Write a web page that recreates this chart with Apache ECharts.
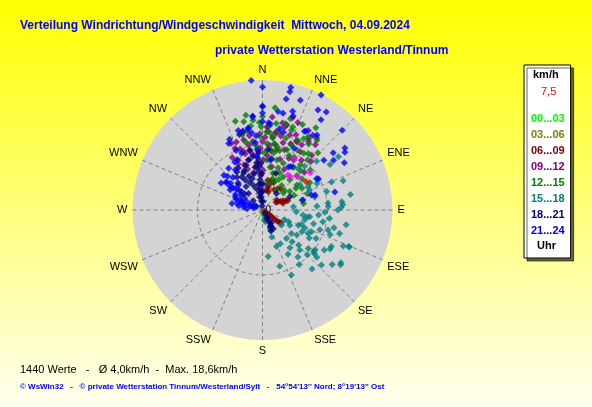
<!DOCTYPE html>
<html>
<head>
<meta charset="utf-8">
<script src="https://cdn.jsdelivr.net/npm/echarts@6/dist/echarts.min.js"></script>
<style>
  html, body { margin: 0; padding: 0; }
  #chart { width: 592px; height: 407px; }
</style>
</head>
<body>
<div id="chart"></div>
<script>
// Himmelsrichtungen (alle 22,5 Grad)
var dirNames = ['N', 'NNE', 'NE', 'ENE', 'E', 'ESE', 'SE', 'SSE', 'S', 'SSW', 'SW', 'WSW', 'W', 'WNW', 'NW', 'NNW'];

// Zeitklassen (Uhr) und ihre Farben
var slotNames = ['00...03', '03...06', '06...09', '09...12', '12...15', '15...18', '18...21', '21...24'];
var slotColors = ['#00ff00', '#808000', '#800000', '#800080', '#008000', '#008080', '#000080', '#0000ff'];

// Messwerte je Zeitklasse: [Richtung in Grad, Geschwindigkeit km/h]
var slot0003 = [[165, 0.4], [172, 0.6], [158, 0.5]];
var slot0306 = [[175, 0.3], [150, 0.7], [140, 0.4]];
var slot0609 = [[122, 0.3], [124, 0.6], [125, 0.9], [126, 1.2], [127, 1.5], [128, 1.8], [127, 2.1], [126, 2.4], [125, 2.6],
  [62, 2.0], [64, 2.3], [66, 2.6], [68, 2.9], [70, 3.1], [60, 1.8], [55, 2.0], [72, 2.5],
  [12, 2.3], [13, 2.6], [14, 2.9], [15, 3.2], [16, 3.5], [18, 2.2], [10, 3.5], [22, 3.4], [30, 2.7], [35, 3.0], [40, 3.2]];
var slot0912 = [[13, 10.3], [16, 10.2], [10, 9.0], [26, 8.9], [33, 9.8], [39, 9.7], [4, 9.7], [345, 8.4], [348, 7.7], [11, 7.7],
  [4, 9.1], [8, 8.5], [27, 8.8], [31, 8.8], [37, 10.4], [34, 9.5], [38, 7.3], [32, 6.8], [339, 8.4], [342, 7.1],
  [334, 6.4], [344, 6.0], [352, 5.0], [346, 4.4], [1, 4.6], [348, 7.1], [358, 7.1], [13, 7.1], [17, 8.1], [27, 6.7],
  [3, 9.6], [10, 9.2], [20, 9.2], [1, 5.8], [12, 5.1], [350, 6.5], [355, 5.5], [340, 7.5], [336, 7.8], [330, 7.0],
  [0, 7.9], [5, 6.3], [20, 7.4], [24, 9.5], [42, 8.5], [45, 7.9], [30, 10.6], [358, 8.8], [352, 8.0], [6, 10.8],
  [18, 11.2], [48, 6.5], [28, 5.3], [338, 5.6], [346, 9.4], [356, 6.8], [8, 6.9], [15, 9.9], [22, 10.9],
  [335, 8.5], [332, 6.0], [340, 5.0], [350, 8.7], [343, 6.8], [2, 8.4], [6, 7.5], [14, 8.8], [19, 6.2], [23, 8.3],
  [33, 8.0], [36, 6.1]];
var slot1215 = [[350, 11.1], [343, 10.7], [348, 10.4], [354, 10.4], [359, 9.6], [5, 9.8], [9, 10.1], [15, 10.3], [20, 10.2], [30, 9.5],
  [32, 10.0], [17, 11.0], [4, 7.7], [13, 7.5], [22, 7.5], [30, 8.0], [36, 8.1], [5, 5.8], [16, 6.0], [24, 5.9],
  [35, 6.1], [16, 4.4], [32, 4.5], [42, 4.7], [35, 2.8], [51, 3.1], [56, 3.8], [81, 4.8], [76, 4.7], [54, 4.9],
  [61, 5.2], [39, 8.4], [42, 7.8], [355, 7.3], [352, 7.8], [346, 8.1], [349, 9.2], [345, 9.0], [358, 8.5], [11, 6.7],
  [8, 8.4], [18, 8.7], [26, 7.0], [28, 4.0], [45, 5.6], [48, 3.4], [20, 5.2], [10, 5.0], [2, 6.6], [25, 10.9],
  [12, 9.2], [40, 6.8], [65, 4.0], [70, 5.5], [38, 3.6], [60, 6.3], [50, 7.2], [33, 11.3], [0, 10.8], [7, 11.9],
  [44, 9.2], [23, 3.6], [14, 3.2], [27, 9.0], [3, 9.0], [6, 8.9], [10, 7.8], [16, 7.1], [20, 9.8], [24, 8.2],
  [31, 7.1], [35, 9.3], [38, 10.2], [44, 6.3], [52, 5.8], [57, 4.6], [18, 3.8], [25, 4.7], [8, 7.0], [358, 10.1], [352, 9.8]];
var slot1518 = [[84, 9.2], [86, 9.3], [90, 8.7], [68, 8.6], [87, 7.6], [86, 6.3], [95, 6.5], [98, 5.5], [103, 5.0], [101, 7.1],
  [107, 7.9], [107, 9.3], [114, 10.2], [113, 10.9], [118, 9.0], [120, 9.0], [118, 7.0], [127, 7.6], [129, 7.6], [113, 5.3],
  [119, 5.2], [117, 5.9], [113, 4.5], [126, 4.9], [129, 4.3], [114, 3.3], [114, 2.8], [128, 2.8], [134, 5.8], [137, 5.0],
  [144, 5.4], [140, 4.3], [130, 6.9], [130, 7.8], [131, 8.3], [143, 6.8], [137, 6.3], [173, 5.4], [163, 6.8], [156, 8.2],
  [128, 10.2], [125, 11.0], [159, 4.5], [161, 3.3], [156, 2.1], [74, 7.7], [44, 7.0], [41, 6.3], [84, 3.6], [93, 3.9],
  [97, 4.7], [99, 5.2], [114, 6.2], [109, 7.0], [97, 7.8], [76, 6.2], [63, 5.9], [64, 7.0], [56, 9.4], [55, 10.7],
  [48, 8.4], [56, 5.2], [67, 5.9], [84, 7.6], [88, 9.1], [113, 10.8], [124, 10.9],
  [100, 9.8], [104, 8.5], [110, 8.3], [121, 6.3], [123, 8.5], [133, 9.3], [135, 7.3], [146, 7.6], [150, 5.9], [152, 4.4],
  [140, 8.9], [92, 7.2], [105, 6.1], [110, 4.8], [119, 3.6], [70, 9.9], [80, 10.3],
  [155, 0.6], [160, 1.0], [165, 1.4], [150, 1.8], [158, 2.4], [170, 1.2]];
var slot1821 = [[355, 0.5], [356, 1.0], [355, 1.5], [357, 2.0], [354, 2.5], [356, 3.0], [355, 3.5], [357, 4.0], [354, 4.5], [356, 5.0],
  [353, 5.5], [355, 6.0], [356, 6.6], [352, 3.0], [350, 2.0], [348, 1.5], [345, 2.5], [340, 3.0], [335, 3.5], [330, 4.0],
  [328, 4.5], [333, 4.8], [338, 4.2], [342, 3.8], [347, 4.3], [350, 5.0], [358, 5.4], [359, 4.2], [2, 3.0], [0, 2.2],
  [3, 1.0], [350, 6.3], [335, 5.0], [325, 3.3], [320, 2.5], [315, 1.5], [300, 1.0], [310, 3.5], [318, 4.2], [322, 4.8],
  [326, 5.3], [330, 5.6], [312, 2.8], [305, 3.0], [340, 5.5], [345, 6.0], [348, 7.0],
  [145, 0.5], [148, 1.0], [150, 1.5], [152, 2.0], [150, 2.5], [155, 2.2], [147, 1.8], [153, 1.2], [158, 2.6],
  [64, 3.5], [40, 2.5], [20, 4.5], [10, 6.0], [343, 9.1], [5, 7.0]];
var slot2124 = [[355, 15.0], [0, 14.2], [13, 14.5], [13, 14.0], [27, 14.9], [12, 13.1], [19, 13.4], [0, 12.0], [29, 13.2], [33, 13.5],
  [9, 11.5], [12, 11.4], [17, 11.9], [18, 11.4], [33, 12.4], [0, 11.2], [354, 10.9], [0, 10.2], [350, 9.5], [4, 10.1],
  [28, 10.3], [34, 10.4], [45, 13.0], [29, 10.4], [36, 10.7], [53, 11.9], [55, 11.6], [60, 10.9], [55, 10.0], [51, 10.5],
  [51, 9.1], [60, 7.2], [61, 7.4], [76, 8.6], [73, 5.9], [74, 6.3], [76, 4.8], [5, 10.0], [12, 9.6], [15, 9.3],
  [27, 8.0], [31, 5.8], [33, 6.0], [9, 5.8],
  [289, 2.4], [288, 1.5], [300, 0.8], [298, 2.1], [280, 2.8], [285, 3.0], [292, 2.6], [275, 1.8], [283, 1.0], [295, 1.6],
  [307, 5.2], [307, 4.2], [311, 3.2], [316, 4.0], [306, 4.6], [308, 5.3], [302, 4.4], [300, 3.6], [310, 4.8], [314, 5.6],
  [321, 6.2], [326, 5.6], [333, 6.5], [330, 6.4], [333, 8.6], [343, 9.6], [346, 9.3], [350, 9.6], [354, 6.2], [355, 7.0],
  [354, 7.8], [355, 8.6], [352, 9.0], [354, 10.8], [0, 11.9], [340, 7.0], [336, 7.5], [335, 9.0],
  [278, 2.2], [286, 2.2], [294, 2.9], [296, 3.5], [304, 2.5], [303, 5.7], [309, 3.9], [318, 5.1], [312, 6.0], [290, 1.2],
  [282, 3.6], [292, 3.3]];
var slotData = [slot0003, slot0306, slot0609, slot0912, slot1215, slot1518, slot1821, slot2124];

// letzte Stunde (magenta) und letzter Wert (rot)
var lastHour = [[36, 5.0], [47, 5.6], [52, 7.0], [32, 7.0], [40, 5.0]];
var lastValue = [[57, 6.0]];

var ringStep = 7.5;   // km/h je Ring
var radiusMax = 15;

// polar erwartet [Radius, Winkel]
function toPolar(arr) {
  return arr.map(function (p) { return [p[1], p[0]]; });
}

var chart = echarts.init(document.getElementById('chart'));

var series = [];
for (var i = 0; i < slotNames.length; i++) {
  series.push({
    name: slotNames[i],
    type: 'scatter',
    coordinateSystem: 'polar',
    polarIndex: 1,
    symbol: 'diamond',
    symbolSize: 7,
    itemStyle: { color: slotColors[i] },
    data: toPolar(slotData[i])
  });
}
series.push({ name: 'letzte Stunde', type: 'scatter', coordinateSystem: 'polar', polarIndex: 1, symbol: 'diamond', symbolSize: 7,
  itemStyle: { color: '#ff00ff' }, data: toPolar(lastHour) });
series.push({ name: 'letzter Wert', type: 'scatter', coordinateSystem: 'polar', polarIndex: 1, symbol: 'diamond', symbolSize: 7,
  itemStyle: { color: '#ff0000' }, data: toPolar(lastValue) });

var legendData = slotNames.map(function (n, i) {
  return { name: n, textStyle: { color: slotColors[i] } };
});

var option = {
  animation: false,
  backgroundColor: {
    type: 'linear', x: 0, y: 0, x2: 0, y2: 1,
    colorStops: [{ offset: 0, color: '#ffff00' }, { offset: 1, color: '#fffff0' }]
  },
  textStyle: { fontFamily: 'Liberation Sans, Arial, sans-serif' },
  title: [
    { text: 'Verteilung Windrichtung/Windgeschwindigkeit  Mittwoch, 04.09.2024', left: 20, top: 20, padding: 0,
      textStyle: { color: '#0000ff', fontSize: 12, fontWeight: 'bold' } },
    { text: 'private Wetterstation Westerland/Tinnum', left: 215, top: 45, padding: 0,
      textStyle: { color: '#0000ff', fontSize: 12, fontWeight: 'bold' } },
    { text: '1440 Werte   -   \u00d8 4,0km/h  -  Max. 18,6km/h', left: 20, top: 364, padding: 0,
      textStyle: { color: '#000', fontSize: 11, fontWeight: 'normal' } },
    { text: '\u00a9 WsWin32   -   \u00a9 private Wetterstation Tinnum/Westerland/Sylt   -   54\u00b054\'13\'\' Nord; 8\u00b019\'13\'\' Ost',
      left: 20, top: 383, padding: 0, textStyle: { color: '#0000ff', fontSize: 8, fontWeight: 'bold' } }
  ],
  legend: {
    orient: 'vertical',
    left: 524, top: 65,
    padding: [47, 6, 20, 2],
    itemGap: 2,
    itemWidth: 0, itemHeight: 14,
    icon: 'none',
    selectedMode: false,
    backgroundColor: '#fff',
    borderColor: '#000', borderWidth: 1,
    shadowColor: 'rgba(0,0,0,0.6)', shadowBlur: 0, shadowOffsetX: 3, shadowOffsetY: 3,
    textStyle: { fontSize: 11, fontWeight: 'bold', lineHeight: 14 },
    data: legendData
  },
  graphic: [
    { type: 'text', left: 533, top: 69, z: 100,
      style: { text: 'km/h', fill: '#000', font: 'bold 11px Liberation Sans, Arial' } },
    { type: 'text', left: 541, top: 86, z: 100,
      style: { text: '7,5', fill: '#ff0000', font: '11px Liberation Sans, Arial' } },
    { type: 'text', left: 537, top: 240, z: 100,
      style: { text: 'Uhr', fill: '#000', font: 'bold 11px Liberation Sans, Arial' } }
  ],
  // polar 0: nur graue Kreisfläche, polar 1: Raster, Beschriftung und Punkte
  polar: [
    { center: [262.5, 210], radius: 130 },
    { center: [262.5, 210], radius: 130 }
  ],
  angleAxis: [
    {
      polarIndex: 0, type: 'value', min: 0, max: 360, z: 0,
      axisLine: { show: false }, axisTick: { show: false }, axisLabel: { show: false },
      splitLine: { show: false }, splitArea: { show: false }
    },
    {
      polarIndex: 1, type: 'value', min: 0, max: 360, interval: 22.5, z: 2,
      startAngle: 90, clockwise: true,
      axisLine: { show: false },
      axisTick: { show: false },
      axisLabel: {
        margin: 5, color: '#000', fontSize: 11,
        formatter: function (v) { return v >= 360 ? '' : dirNames[Math.round(v / 22.5) % 16]; }
      },
      splitLine: { show: true, lineStyle: { color: '#808080', type: [4, 3], width: 1 } }
    }
  ],
  radiusAxis: [
    {
      polarIndex: 0, min: 0, max: radiusMax, interval: radiusMax, z: 0,
      axisLine: { show: false }, axisTick: { show: false }, axisLabel: { show: false },
      splitLine: { show: false },
      splitArea: { show: true, areaStyle: { color: ['#d4d4d4'] } }
    },
    {
      polarIndex: 1, min: 0, max: radiusMax, interval: ringStep, z: 2,
      axisLine: { show: false },
      axisTick: { show: false },
      axisLabel: {
        color: '#000', fontSize: 10, margin: -3, align: 'left',
        formatter: function (v) { return v === 0 ? '0' : ''; }
      },
      splitLine: { show: true, lineStyle: { color: ['rgba(0,0,0,0)', '#808080', 'rgba(0,0,0,0)'], type: [4, 3] } }
    }
  ],
  series: series
};

chart.setOption(option);
</script>
</body>
</html>
